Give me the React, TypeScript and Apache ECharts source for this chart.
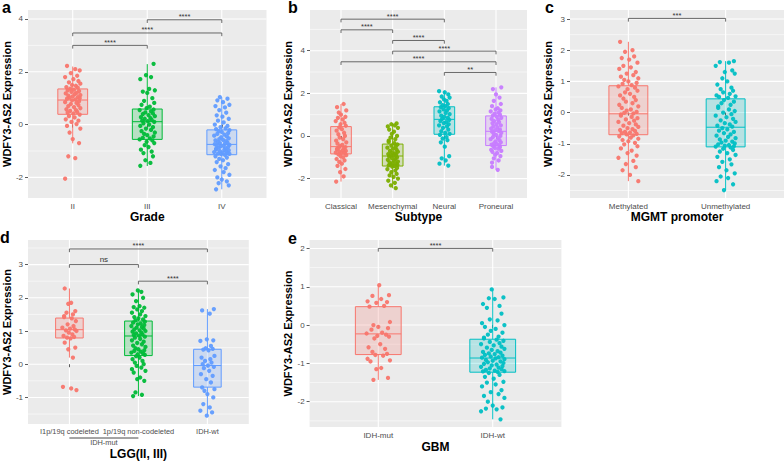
import { useEffect, useRef } from 'react';
import * as echarts from 'echarts';

const FONT = '"Liberation Sans", Arial, Helvetica, sans-serif';

// Hand-typed horizontal jitter offsets (hundredths of a category step)
const JITTER = [
  -9, 4, 11, -3, 7, -12, 1, 9, -6, 12, -1, 5, -10, 8, -4, 2, -8, 10, -2, 6,
  -11, 3, 12, -7, 0, 8, -5, 11, -9, 4, -1, 10, -12, 6, -3, 9, -7, 2, 12, -10,
  5, -4, 7, -8, 1, 11, -6, 3, -11, 9, -2, 6, -9, 12, -5, 0, 10, -7, 4, -12,
  8, -1, 11, -4, 2, -10, 7, -6, 9, -3, 5, -11, 12, -8, 3, -2, 10, -5, 6, -9,
];

// ---------- a: Grade ----------
const GRADE_CATS = ['II', 'III', 'IV'];
const GRADE_COLORS = ['#F8766D', '#00BA38', '#619CFF'];
const GRADE_II = [
  2.22, 2.1, 2.05, 1.95, 1.85, 1.8, 1.72, 1.65, 1.6, 1.55, 1.5, 1.47, 1.42, 1.4, 1.36,
  1.32, 1.3, 1.27, 1.24, 1.2, 1.18, 1.15, 1.12, 1.1, 1.07, 1.04, 1.02, 1.0, 0.98, 0.95,
  0.92, 0.88, 0.85, 0.82, 0.78, 0.74, 0.7, 0.66, 0.62, 0.58, 0.55, 0.52, 0.48, 0.45, 0.42,
  0.38, 0.32, 0.27, 0.2, 0.15, 0.1, 0.02, -0.05, -0.15, -0.3, -0.55, -0.7, -1.2, -1.27, -2.05,
];
const GRADE_III = [
  2.3, 1.87, 1.8, 1.72, 1.35, 1.3, 1.25, 1.2, 1.0, 0.9, 0.82, 0.75, 0.68, 0.62,
  0.57, 0.55, 0.5, 0.46, 0.42, 0.4, 0.36, 0.32, 0.28, 0.25, 0.22, 0.18, 0.15, 0.13,
  0.1, 0.05, 0.0, -0.05, -0.1, -0.15, -0.2, -0.25, -0.3, -0.35, -0.4, -0.45, -0.5, -0.52,
  -0.56, -0.6, -0.65, -0.7, -0.78, -0.85, -0.95, -1.02, -1.08, -1.2, -1.35, -1.45, -1.56,
];
const GRADE_IV = [
  1.04, 0.98, 0.92, 0.85, 0.75, 0.7, 0.65, 0.55, 0.45, 0.35, 0.3, 0.22, 0.15, 0.08, 0.0, -0.05, -0.1, -0.14, -0.17,
  -0.21, -0.25, -0.28, -0.32, -0.35, -0.38, -0.42, -0.45, -0.48, -0.52, -0.55, -0.58, -0.6, -0.63, -0.66, -0.68, -0.7, -0.72, -0.74,
  -0.77, -0.79, -0.81, -0.83, -0.85, -0.87, -0.9, -0.92, -0.94, -0.96, -0.98, -1.0, -1.02, -1.04, -1.06, -1.08, -1.1, -1.11, -1.12,
  -1.15, -1.2, -1.25, -1.3, -1.35, -1.42, -1.5, -1.58, -1.65, -1.72, -1.8, -1.9, -2.0, -2.08, -2.15, -2.22, -2.3, -2.45,
];
// [lower whisker, q1, median, q3, upper whisker]
const GRADE_BOXES = [
  [-0.71, 0.39, 0.93, 1.35, 2.2],
  [-1.57, -0.56, 0.11, 0.59, 2.29],
  [-2.45, -1.14, -0.75, -0.2, 1.04],
];
const GRADE_BRACKETS: [number, number, number, string][] = [
  [1, 2, 3.0, '****'],
  [1, 3, 3.47, '****'],
  [2, 3, 3.97, '****'],
];
const GRADE_Y_MAJOR = [-2, 0, 2, 4];
const GRADE_Y_MINOR = [-1, 1, 3];

// ---------- b: Subtype ----------
const SUBTYPE_CATS = ['Classical', 'Mesenchymal', 'Neural', 'Proneural'];
const SUBTYPE_COLORS = ['#F8766D', '#7CAE00', '#00BFC4', '#C77CFF'];
const SUBTYPE_CLASSICAL = [
  1.5, 1.35, 1.2, 1.1, 1.0, 0.9, 0.85, 0.78, 0.7, 0.62, 0.55, 0.48,
  0.4, 0.32, 0.25, 0.15, 0.08, 0.0, -0.08, -0.15, -0.22, -0.3, -0.36, -0.42, -0.47,
  -0.52, -0.55, -0.58, -0.61, -0.64, -0.67, -0.7, -0.73, -0.76, -0.78, -0.8, -0.82,
  -0.86, -0.9, -0.95, -1.0, -1.08, -1.15, -1.22, -1.3, -1.4, -1.55, -1.7, -1.9, -2.14,
];
const SUBTYPE_MESENCHYMAL = [
  0.59, 0.55, 0.5, 0.45, 0.38, 0.3, 0.2, 0.1, 0.0, -0.08, -0.15, -0.22, -0.28, -0.34,
  -0.4, -0.45, -0.5, -0.55, -0.6, -0.65, -0.7, -0.74, -0.78, -0.82, -0.85, -0.88, -0.9, -0.92,
  -0.96, -1.0, -1.04, -1.08, -1.12, -1.16, -1.2, -1.24, -1.27, -1.3, -1.33, -1.36, -1.38, -1.4,
  -1.44, -1.5, -1.56, -1.62, -1.7, -1.78, -1.85, -1.92, -2.0, -2.1, -2.2, -2.32, -2.45,
];
const SUBTYPE_NEURAL = [
  2.1, 2.05, 1.95, 1.85, 1.8, 1.72, 1.65, 1.58, 1.5, 1.45, 1.4,
  1.35, 1.3, 1.25, 1.2, 1.15, 1.08, 1.02, 0.95, 0.9, 0.85, 0.8,
  0.75, 0.7, 0.65, 0.6, 0.55, 0.5, 0.45, 0.38, 0.3, 0.22, 0.15, 0.1,
  0.05, -0.05, -0.12, -0.2, -0.3, -0.5, -0.95, -1.05, -1.15, -1.3, -1.39,
];
const SUBTYPE_PRONEURAL = [
  2.28, 2.2, 1.95, 1.8, 1.65, 1.5, 1.4, 1.3, 1.25, 1.2, 1.15, 1.1, 1.05, 1.0, 0.96,
  0.9, 0.85, 0.8, 0.75, 0.7, 0.65, 0.6, 0.55, 0.5, 0.45, 0.4, 0.35, 0.3, 0.27, 0.24,
  0.2, 0.15, 0.1, 0.05, 0.0, -0.05, -0.1, -0.15, -0.2, -0.25, -0.3, -0.34, -0.38, -0.41, -0.44,
  -0.48, -0.52, -0.56, -0.6, -0.65, -0.7, -0.75, -0.8, -0.88, -0.95, -1.05, -1.15, -1.25, -1.45, -1.59,
];
const SUBTYPE_BOXES = [
  [-2.14, -0.84, -0.5, 0.44, 1.5],
  [-2.45, -1.41, -0.94, -0.38, 0.59],
  [-1.39, 0.08, 0.78, 1.37, 2.1],
  [-1.59, -0.45, 0.22, 0.94, 2.28],
];
const SUBTYPE_BRACKETS: [number, number, number, string][] = [
  [1, 3, 5.48, '****'],
  [1, 2, 4.98, '****'],
  [2, 3, 4.48, '****'],
  [2, 4, 3.98, '****'],
  [1, 4, 3.48, '****'],
  [3, 4, 2.98, '**'],
];
const SUBTYPE_Y_MAJOR = [-2, 0, 2, 4];
const SUBTYPE_Y_MINOR = [-1, 1, 3, 5];

// ---------- c: MGMT promoter ----------
const MGMT_CATS = ['Methylated', 'Unmethylated'];
const MGMT_COLORS = ['#F8766D', '#00BFC4'];
const MGMT_METHYLATED = [
  2.27, 2.0, 1.95, 1.8, 1.75, 1.7, 1.6, 1.5, 1.45, 1.4, 1.3, 1.25, 1.2, 1.15, 1.1, 1.05, 1.0, 0.95, 0.92, 0.88,
  0.84, 0.8, 0.75, 0.7, 0.65, 0.6, 0.55, 0.5, 0.45, 0.4, 0.35, 0.3, 0.25, 0.2, 0.15, 0.1, 0.06, 0.02, -0.01, -0.03,
  -0.06, -0.1, -0.14, -0.18, -0.22, -0.26, -0.3, -0.34, -0.38, -0.42, -0.46, -0.5, -0.53, -0.56, -0.59, -0.62, -0.64, -0.66, -0.68, -0.7,
  -0.73, -0.76, -0.8, -0.84, -0.88, -0.92, -0.97, -1.02, -1.08, -1.15, -1.22, -1.3, -1.38, -1.45, -1.55, -1.65, -1.75, -1.85, -2.0, -2.2,
];
const MGMT_UNMETHYLATED = [
  1.65, 1.62, 1.6, 1.5, 1.35, 1.3, 1.25, 1.1, 1.0, 0.9, 0.8, 0.75, 0.7, 0.65, 0.6, 0.55, 0.52, 0.5, 0.47,
  0.4, 0.35, 0.3, 0.25, 0.2, 0.15, 0.1, 0.05, 0.0, -0.05, -0.1, -0.15, -0.2, -0.25, -0.3, -0.34, -0.38, -0.42, -0.45,
  -0.5, -0.54, -0.58, -0.62, -0.66, -0.7, -0.74, -0.78, -0.82, -0.86, -0.9, -0.93, -0.96, -0.99, -1.02, -1.04, -1.06, -1.08, -1.09,
  -1.12, -1.16, -1.2, -1.25, -1.3, -1.36, -1.42, -1.5, -1.58, -1.66, -1.75, -1.85, -1.95, -2.05, -2.1, -2.2, -2.3, -2.49,
];
const MGMT_BOXES = [
  [-2.2, -0.71, -0.04, 0.86, 2.27],
  [-2.49, -1.1, -0.47, 0.44, 1.65],
];
const MGMT_BRACKETS: [number, number, number, string][] = [[1, 2, 3.02, '***']];
const MGMT_Y_MAJOR = [-2, -1, 0, 1, 2, 3];
const MGMT_Y_MINOR = [-2.5, -1.5, -0.5, 0.5, 1.5, 2.5];

// ---------- d: LGG(II, III) ----------
const LGG_CATS = ['I1p/19q codeleted', '1p/19q non-codeleted', 'IDH-wt'];
const LGG_COLORS = ['#F8766D', '#00BA38', '#619CFF'];
const LGG_CODELETED = [
  2.28, 1.85, 1.82, 1.6, 1.55, 1.5, 1.45, 1.42, 1.38, 1.3, 1.2, 1.15, 1.1, 1.07, 1.05,
  1.02, 1.0, 0.95, 0.9, 0.85, 0.82, 0.8, 0.78, 0.65, 0.5, 0.45, 0.2, -0.68, -0.73, -0.78,
];
const LGG_NONCODELETED = [
  2.22, 2.18, 2.1, 2.0, 1.9, 1.75, 1.72, 1.7, 1.65, 1.6, 1.55, 1.5, 1.45, 1.42, 1.38, 1.35, 1.32,
  1.28, 1.25, 1.22, 1.2, 1.18, 1.15, 1.12, 1.1, 1.07, 1.05, 1.02, 1.0, 0.98, 0.95, 0.93, 0.9, 0.88, 0.86,
  0.83, 0.8, 0.76, 0.72, 0.68, 0.64, 0.6, 0.56, 0.52, 0.48, 0.45, 0.42, 0.4, 0.38, 0.35, 0.32, 0.3, 0.28,
  0.24, 0.2, 0.15, 0.1, 0.05, 0.0, -0.05, -0.1, -0.15, -0.2, -0.25, -0.4, -0.45, -0.5, -0.85, -0.92, -0.96,
];
const LGG_WT = [
  1.66, 1.62, 1.52, 0.75, 0.72, 0.7, 0.55, 0.48, 0.46, 0.44, 0.42, 0.25, 0.2, 0.15, 0.1, 0.05, 0.0,
  -0.04, -0.08, -0.12, -0.2, -0.3, -0.35, -0.45, -0.55, -0.7, -0.75, -0.8, -0.9, -1.0, -1.2, -1.3, -1.4, -1.45, -1.55,
];
const LGG_BOXES = [
  [0.2, 0.79, 1.04, 1.39, 2.28],
  [-0.96, 0.26, 0.85, 1.3, 2.22],
  [-1.55, -0.69, -0.04, 0.45, 1.66],
];
const LGG_BRACKETS: [number, number, number, string][] = [
  [1, 3, 3.47, '****'],
  [1, 2, 3.0, 'ns'],
  [2, 3, 2.5, '****'],
];
const LGG_Y_MAJOR = [-1, 0, 1, 2, 3];
const LGG_Y_MINOR = [-1.5, -0.5, 0.5, 1.5, 2.5, 3.5];
const LGG_GROUP_LABEL = 'IDH-mut';

// ---------- e: GBM ----------
const GBM_CATS = ['IDH-mut', 'IDH-wt'];
const GBM_COLORS = ['#F8766D', '#00BFC4'];
const GBM_MUT = [
  1.04, 0.78, 0.76, 0.68, 0.62, 0.6, 0.58, 0.5, 0.48, 0.08, 0.0, -0.05, -0.08, -0.12, -0.2, -0.22,
  -0.25, -0.28, -0.3, -0.35, -0.5, -0.58, -0.62, -0.7, -0.75, -0.78, -0.8, -0.88, -0.92, -0.95, -1.12, -1.15, -1.38, -1.43,
];
const GBM_WT = [
  0.93, 0.72, 0.7, 0.68, 0.55, 0.5, 0.45, 0.3, 0.15, 0.12, 0.05, 0.0, -0.05, -0.1, -0.15, -0.2, -0.25, -0.3, -0.33, -0.35,
  -0.38, -0.41, -0.44, -0.47, -0.5, -0.53, -0.56, -0.59, -0.62, -0.65, -0.68, -0.7, -0.72, -0.74, -0.76, -0.78, -0.8, -0.82, -0.84, -0.85,
  -0.87, -0.89, -0.91, -0.93, -0.95, -0.97, -0.99, -1.01, -1.03, -1.05, -1.07, -1.09, -1.11, -1.13, -1.15, -1.17, -1.19, -1.2, -1.21, -1.22,
  -1.25, -1.3, -1.35, -1.4, -1.48, -1.5, -1.55, -1.6, -1.7, -1.75, -1.8, -1.85, -1.9, -2.0, -2.1, -2.15, -2.18, -2.2, -2.25, -2.46,
];
const GBM_BOXES = [
  [-1.43, -0.77, -0.23, 0.48, 1.04],
  [-2.46, -1.23, -0.86, -0.37, 0.93],
];
const GBM_BRACKETS: [number, number, number, string][] = [[1, 2, 2.0, '****']];
const GBM_Y_MAJOR = [-2, -1, 0, 1, 2];
const GBM_Y_MINOR = [-2.5, -1.5, -0.5, 0.5, 1.5];

const Y_TITLE = 'WDFY3-AS2 Expression';

interface PanelSpec {
  letter: string;
  letterPos: [number, number];
  rect: { left: number; top: number; width: number; height: number };
  cats: string[];
  colors: string[];
  groups: number[][];
  boxes: number[][];
  brackets: [number, number, number, string][];
  yMin: number;
  yMax: number;
  yMajor: number[];
  yMinor: number[];
  xName: string;
  xNameGap: number;
  yNameGap: number;
  tickFont: number;
  groupLabel?: string;
}

const PANELS: PanelSpec[] = [
  {
    letter: 'a', letterPos: [2, -1],
    rect: { left: 26.5, top: 10, width: 240, height: 188 },
    cats: GRADE_CATS, colors: GRADE_COLORS, groups: [GRADE_II, GRADE_III, GRADE_IV],
    boxes: GRADE_BOXES, brackets: GRADE_BRACKETS, yMin: -2.78, yMax: 4.34,
    yMajor: GRADE_Y_MAJOR, yMinor: GRADE_Y_MINOR, xName: 'Grade', xNameGap: 9, yNameGap: 11, tickFont: 8,
  },
  {
    letter: 'b', letterPos: [288, -1],
    rect: { left: 310, top: 10, width: 217, height: 188 },
    cats: SUBTYPE_CATS, colors: SUBTYPE_COLORS,
    groups: [SUBTYPE_CLASSICAL, SUBTYPE_MESENCHYMAL, SUBTYPE_NEURAL, SUBTYPE_PRONEURAL],
    boxes: SUBTYPE_BOXES, brackets: SUBTYPE_BRACKETS, yMin: -2.91, yMax: 5.91,
    yMajor: SUBTYPE_Y_MAJOR, yMinor: SUBTYPE_Y_MINOR, xName: 'Subtype', xNameGap: 9, yNameGap: 10, tickFont: 8,
  },
  {
    letter: 'c', letterPos: [545, -1],
    rect: { left: 570, top: 10, width: 214, height: 188 },
    cats: MGMT_CATS, colors: MGMT_COLORS, groups: [MGMT_METHYLATED, MGMT_UNMETHYLATED],
    boxes: MGMT_BOXES, brackets: MGMT_BRACKETS, yMin: -2.74, yMax: 3.29,
    yMajor: MGMT_Y_MAJOR, yMinor: MGMT_Y_MINOR, xName: 'MGMT promoter', xNameGap: 9, yNameGap: 8, tickFont: 8,
  },
  {
    letter: 'd', letterPos: [0, 229],
    rect: { left: 27.5, top: 240, width: 221.3, height: 187 },
    cats: LGG_CATS, colors: LGG_COLORS, groups: [LGG_CODELETED, LGG_NONCODELETED, LGG_WT],
    boxes: LGG_BOXES, brackets: LGG_BRACKETS, yMin: -1.8, yMax: 3.74,
    yMajor: LGG_Y_MAJOR, yMinor: LGG_Y_MINOR, xName: 'LGG(II, III)', xNameGap: 24, yNameGap: 14, tickFont: 7.4,
    groupLabel: LGG_GROUP_LABEL,
  },
  {
    letter: 'e', letterPos: [288, 230],
    rect: { left: 309.6, top: 240, width: 251.8, height: 187 },
    cats: GBM_CATS, colors: GBM_COLORS, groups: [GBM_MUT, GBM_WT],
    boxes: GBM_BOXES, brackets: GBM_BRACKETS, yMin: -2.66, yMax: 2.22,
    yMajor: GBM_Y_MAJOR, yMinor: GBM_Y_MINOR, xName: 'GBM', xNameGap: 14, yNameGap: 9, tickFont: 8,
  },
];

function rgba(hex: string, a: number) {
  const n = parseInt(hex.slice(1), 16);
  return `rgba(${(n >> 16) & 255},${(n >> 8) & 255},${n & 255},${a})`;
}

function buildOption() {
  const grid: any[] = [];
  const xAxis: any[] = [];
  const yAxis: any[] = [];
  const series: any[] = [];
  const title: any[] = [];
  let jitterStart = 0;

  PANELS.forEach((p, i) => {
    const xMin = 0.4;
    const xMax = p.cats.length + 0.6;
    const catPos = p.cats.map((_, k) => k + 1);
    grid.push({
      ...p.rect, show: true, backgroundColor: '#EBEBEB', borderWidth: 0, containLabel: false,
    });
    title.push({
      text: p.letter, left: p.letterPos[0], top: p.letterPos[1], padding: 0,
      textStyle: { fontSize: 16, fontWeight: 'bold', color: '#000', fontFamily: FONT },
    });
    xAxis.push({
      gridIndex: i, type: 'value', min: xMin, max: xMax,
      name: p.xName, nameLocation: 'middle', nameGap: p.xNameGap,
      nameTextStyle: { fontFamily: FONT, fontSize: 12, fontWeight: 'bold', color: '#000' },
      axisLine: { show: false }, splitLine: { show: false },
      axisTick: { show: true, customValues: catPos, length: 3, lineStyle: { color: '#333', width: 0.8 } },
      axisLabel: {
        customValues: catPos, fontSize: p.tickFont, color: '#4D4D4D', margin: 4, fontFamily: FONT,
        formatter: (v: number) => p.cats[Math.round(v) - 1] ?? '',
      },
    });
    yAxis.push({
      gridIndex: i, type: 'value', min: p.yMin, max: p.yMax,
      name: Y_TITLE, nameLocation: 'middle', nameRotate: 90, nameGap: p.yNameGap,
      nameTextStyle: { fontFamily: FONT, fontSize: 11, fontWeight: 'bold', color: '#000' },
      axisLine: { show: false }, splitLine: { show: false },
      axisTick: { show: true, customValues: p.yMajor, length: 3, lineStyle: { color: '#333', width: 0.8 } },
      axisLabel: {
        customValues: p.yMajor, fontSize: 8, color: '#4D4D4D', margin: 5, fontFamily: FONT,
        formatter: (v: number) => String(v),
      },
    });

    // gridlines
    series.push({
      type: 'custom', coordinateSystem: 'cartesian2d', xAxisIndex: i, yAxisIndex: i, z: 0, silent: true,
      data: [[xMin, p.yMin]],
      renderItem: (params: any, api: any) => {
        const cs = params.coordSys;
        const children: any[] = [];
        p.yMinor.forEach((v) => {
          const y = api.coord([xMin, v])[1];
          children.push({ type: 'line', shape: { x1: cs.x, y1: y, x2: cs.x + cs.width, y2: y }, style: { stroke: '#FFFFFF', lineWidth: 0.55 } });
        });
        p.yMajor.forEach((v) => {
          const y = api.coord([xMin, v])[1];
          children.push({ type: 'line', shape: { x1: cs.x, y1: y, x2: cs.x + cs.width, y2: y }, style: { stroke: '#FFFFFF', lineWidth: 1.1 } });
        });
        catPos.forEach((c) => {
          const x = api.coord([c, p.yMin])[0];
          children.push({ type: 'line', shape: { x1: x, y1: cs.y, x2: x, y2: cs.y + cs.height }, style: { stroke: '#FFFFFF', lineWidth: 1.1 } });
        });
        return { type: 'group', children };
      },
    });

    // boxes
    series.push({
      type: 'custom', coordinateSystem: 'cartesian2d', xAxisIndex: i, yAxisIndex: i, z: 1, silent: true,
      data: p.boxes.map((b, k) => [k + 1, ...b]),
      renderItem: (params: any, api: any) => {
        const x = api.value(0);
        const lo = api.value(1), q1 = api.value(2), med = api.value(3), q3 = api.value(4), hi = api.value(5);
        const color = p.colors[params.dataIndex];
        const hw = 0.2;
        const pHi = api.coord([x, hi]);
        const pLo = api.coord([x, lo]);
        const pQ3 = api.coord([x, q3]);
        const pQ1 = api.coord([x, q1]);
        const l = api.coord([x - hw, med]);
        const r = api.coord([x + hw, med]);
        const st = { stroke: color, lineWidth: 1 };
        return {
          type: 'group',
          children: [
            { type: 'line', shape: { x1: pHi[0], y1: pHi[1], x2: pQ3[0], y2: pQ3[1] }, style: st },
            { type: 'line', shape: { x1: pQ1[0], y1: pQ1[1], x2: pLo[0], y2: pLo[1] }, style: st },
            {
              type: 'rect',
              shape: { x: l[0], y: pQ3[1], width: r[0] - l[0], height: pQ1[1] - pQ3[1] },
              style: { fill: rgba(color, 0.22), stroke: color, lineWidth: 1 },
            },
            { type: 'line', shape: { x1: l[0], y1: l[1], x2: r[0], y2: r[1] }, style: st },
          ],
        };
      },
    });

    // jittered points
    p.groups.forEach((ys, k) => {
      const start = jitterStart;
      jitterStart += 17;
      series.push({
        type: 'scatter', xAxisIndex: i, yAxisIndex: i, z: 2, silent: true,
        symbol: 'circle', symbolSize: 4.3,
        itemStyle: { color: p.colors[k], opacity: 0.95 },
        data: ys.map((y, j) => [k + 1 + (JITTER[(start + j) % JITTER.length] * 0.85) / 100, y]),
      });
    });

    // significance brackets
    series.push({
      type: 'custom', coordinateSystem: 'cartesian2d', xAxisIndex: i, yAxisIndex: i, z: 3, silent: true,
      data: p.brackets.map((b) => [b[0], b[2]]),
      renderItem: (params: any, api: any) => {
        const b = p.brackets[params.dataIndex];
        const p1 = api.coord([b[0], b[2]]);
        const p2 = api.coord([b[1], b[2]]);
        const t = 3.2;
        return {
          type: 'group',
          children: [
            {
              type: 'polyline',
              shape: { points: [[p1[0], p1[1] + t], [p1[0], p1[1]], [p2[0], p2[1]], [p2[0], p2[1] + t]] },
              style: { stroke: '#595959', lineWidth: 0.9, fill: null },
            },
            {
              type: 'text',
              style: {
                text: b[3], x: (p1[0] + p2[0]) / 2, y: p1[1] - (b[3] === 'ns' ? 1 : -1),
                align: 'center', verticalAlign: 'bottom', fontSize: b[3] === 'ns' ? 8 : 7.5,
                fill: '#333', fontFamily: FONT,
              },
            },
          ],
        };
      },
    });

    // secondary group label under the x axis (panel d)
    if (p.groupLabel) {
      series.push({
        type: 'custom', coordinateSystem: 'cartesian2d', xAxisIndex: i, yAxisIndex: i, z: 3, silent: true,
        data: [[1, p.yMin]],
        renderItem: (params: any, api: any) => {
          const a = api.coord([1, p.yMin]);
          const b = api.coord([2, p.yMin]);
          const ly = a[1] + 14;
          return {
            type: 'group',
            children: [
              { type: 'line', shape: { x1: a[0], y1: ly, x2: b[0], y2: ly }, style: { stroke: '#333', lineWidth: 0.9 } },
              {
                type: 'text',
                style: {
                  text: p.groupLabel, x: (a[0] + b[0]) / 2, y: ly + 1, align: 'center', verticalAlign: 'top',
                  fontSize: 7.4, fill: '#4D4D4D', fontFamily: FONT,
                },
              },
            ],
          };
        },
      });
    }
  });

  return { animation: false, backgroundColor: '#FFFFFF', title, grid, xAxis, yAxis, series };
}

export default function App() {
  const ref = useRef<HTMLDivElement>(null);
  useEffect(() => {
    document.body.style.margin = '0';
    if (!ref.current) return;
    const chart = echarts.init(ref.current, null, { renderer: 'svg' });
    chart.setOption(buildOption() as any);
    return () => chart.dispose();
  }, []);
  return <div ref={ref} style={{ width: 784, height: 461 }} />;
}
